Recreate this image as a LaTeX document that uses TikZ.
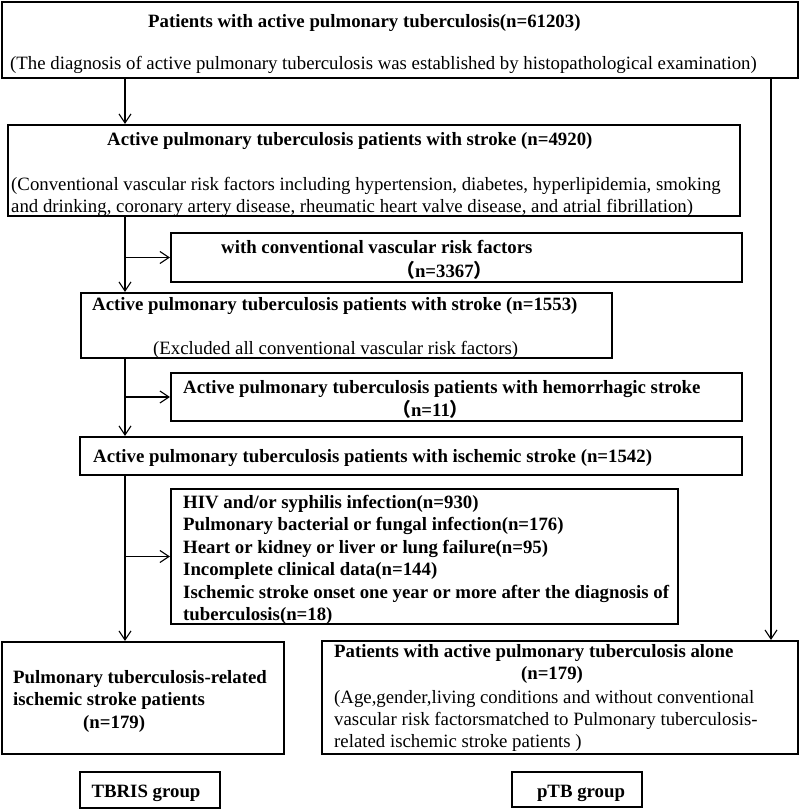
\documentclass[tikz,border=0pt]{standalone}
\usepackage{fontspec}
\setmainfont{Liberation Serif}
\newfontfamily\cjk{Noto Sans CJK SC}
\usetikzlibrary{arrows.meta}

\begin{document}
\begin{tikzpicture}
[x=1pt, y=-1pt,
 boxnode/.style={rectangle, draw=black, line width=2.2pt, inner sep=0pt},
 headtext/.style={font=\fontsize{18.8}{22.5}\selectfont\bfseries, inner sep=0pt, align=left},
 bodytext/.style={font=\fontsize{18.8}{22.2}\selectfont, inner sep=0pt, align=left},
 flow/.style={line width=1.1pt, -{Straight Barb[length=9pt, width=12pt]}}]
\useasboundingbox (0,0) rectangle (800,810);
% boxes
\node[boxnode, minimum width=796pt, minimum height=76pt]	(all)	at (400,40)	{};
\node[boxnode, minimum width=732pt, minimum height=91pt]	(stroke) at (374,170.5) {};
\node[boxnode, minimum width=571pt, minimum height=49pt]	(crf)	at (456.5,257.5) {};
\node[boxnode, minimum width=531pt, minimum height=65pt]	(nocrf)	at (346.5,325.5) {};
\node[boxnode, minimum width=571pt, minimum height=48pt]	(hem)	at (456.5,397) {};
\node[boxnode, minimum width=662pt, minimum height=38pt]	(isch)	at (411,456) {};
\node[boxnode, minimum width=507pt, minimum height=135pt]	(excl)	at (424.5,556.5) {};
\node[boxnode, minimum width=282pt, minimum height=112pt]	(tbris)	at (143,698) {};
\node[boxnode, minimum width=476pt, minimum height=113pt]	(ptb)	at (560,697.5) {};
\node[boxnode, minimum width=140pt, minimum height=36pt]	(tbrisgroup) at (150,790) {};
\node[boxnode, minimum width=130pt, minimum height=35pt]	(ptbgroup) at (577,789.5) {};
% texts
\node[headtext, anchor=base west] (allhead) at (148,28) {Patients with active pulmonary tuberculosis(n=61203)};
\node[bodytext, anchor=base west] (allnote) at (10,70) {(The diagnosis of active pulmonary tuberculosis was established by histopathological examination)};
\node[headtext, anchor=base west] (strokehead) at (107,146) {Active pulmonary tuberculosis patients with stroke (n=4920)};
\node[bodytext, anchor=north west] (strokenote) at (11,177) {(Conventional vascular risk factors including hypertension, diabetes, hyperlipidemia, smoking\\and drinking, coronary artery disease, rheumatic heart valve disease, and atrial fibrillation)};
\node[headtext, anchor=base west] (crfhead) at (221,253) {with conventional vascular risk factors};
\node[headtext, anchor=base west] (crfn) at (396,277) {{\cjk （}n=3367{\cjk ）}};
\node[headtext, anchor=base west] (nocrfhead) at (92,310) {Active pulmonary tuberculosis patients with stroke (n=1553)};
\node[bodytext, anchor=base west] (nocrfnote) at (153,354) {(Excluded all conventional vascular risk factors)};
\node[headtext, anchor=base west] (hemhead) at (183,393) {Active pulmonary tuberculosis patients with hemorrhagic stroke};
\node[headtext, anchor=base west] (hemn) at (392,416) {{\cjk （}n=11{\cjk ）}};
\node[headtext, anchor=base west] (ischhead) at (93,462) {Active pulmonary tuberculosis patients with ischemic stroke (n=1542)};
\node[headtext, anchor=north west] (excllist) at (183,495) {HIV and/or syphilis infection(n=930)\\Pulmonary bacterial or fungal infection(n=176)\\Heart or kidney or liver or lung failure(n=95)\\Incomplete clinical data(n=144)\\Ischemic stroke onset one year or more after the diagnosis of\\tuberculosis(n=18)};
\node[headtext, anchor=north west] (tbrishead) at (13,670) {Pulmonary tuberculosis-related\\ischemic stroke patients\\\hspace*{70pt}(n=179)};
\node[headtext, anchor=base west] (ptbhead) at (334,657) {Patients with active pulmonary tuberculosis alone};
\node[headtext, anchor=base] (ptbn) at (552,679) {(n=179)};
\node[bodytext, anchor=north west] (ptbnote) at (334,690) {(Age,gender,living conditions and without conventional\\vascular risk factorsmatched to Pulmonary tuberculosis-\\related ischemic stroke patients )};
\node[headtext, anchor=base] (tbrisname) at (146,797) {TBRIS group};
\node[headtext, anchor=base] (ptbname) at (581,797) {pTB group};
% connectors
\coordinate (leftrail) at (125,0);
\coordinate (rightrail) at (771,0);
\draw[flow] (leftrail |- all.south) -- (leftrail |- stroke.north);
\draw[flow] (leftrail |- stroke.south) -- (leftrail |- nocrf.north);
\draw[flow] (leftrail |- crf.west) -- (crf.west);
\draw[flow] (leftrail |- nocrf.south) -- (leftrail |- isch.north);
\draw[flow] (leftrail |- hem.west) -- (hem.west);
\draw[flow] (leftrail |- isch.south) -- (leftrail |- tbris.north);
\draw[flow] (leftrail |- excl.west) -- (excl.west);
\draw[flow] (rightrail |- all.south) -- (rightrail |- ptb.north);
\end{tikzpicture}
\end{document}
